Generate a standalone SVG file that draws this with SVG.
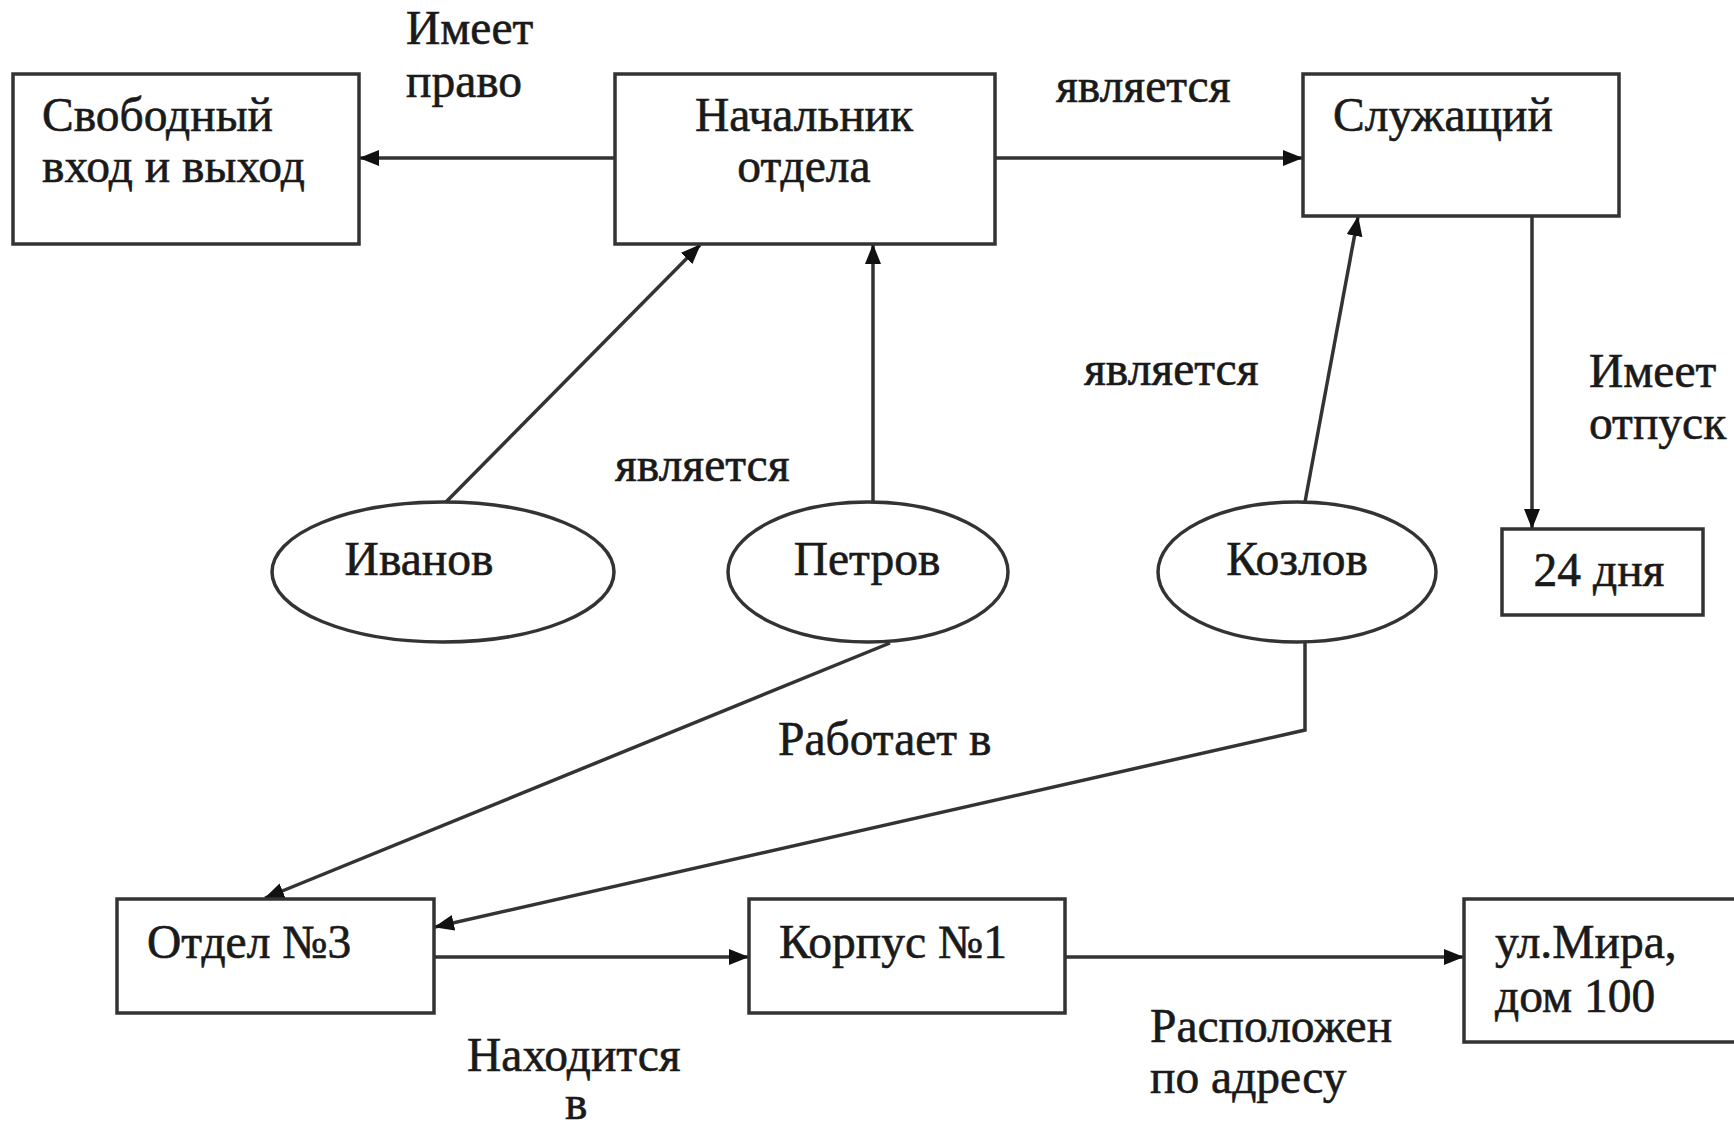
<svg xmlns="http://www.w3.org/2000/svg" width="1734" height="1126" viewBox="0 0 1734 1126">
<style>
.box{fill:#fff;stroke:#333;stroke-width:3.5}
.t{font-family:"Liberation Serif","Times New Roman",serif;font-size:47.5px;fill:#1a1a1a;stroke:#1a1a1a;stroke-width:0.6}
.c{text-anchor:middle}
.ln{fill:none;stroke:#333;stroke-width:3.5}
</style>
<defs>
<marker id="ah" markerWidth="20" markerHeight="16" refX="19" refY="8" orient="auto" markerUnits="userSpaceOnUse">
<path d="M0,0 L20,8 L0,16 Z" fill="#111"/>
</marker>
</defs>
<rect width="1734" height="1126" fill="#fff"/>
<g id="connectors">
<line class="ln" x1="615" y1="158" x2="360" y2="158" marker-end="url(#ah)"/>
<line class="ln" x1="995" y1="158" x2="1302" y2="158" marker-end="url(#ah)"/>
<line class="ln" x1="446" y1="502" x2="700" y2="245" marker-end="url(#ah)"/>
<line class="ln" x1="873" y1="502" x2="873" y2="245" marker-end="url(#ah)"/>
<line class="ln" x1="1305" y1="502" x2="1358" y2="217" marker-end="url(#ah)"/>
<line class="ln" x1="1532" y1="216" x2="1532" y2="528" marker-end="url(#ah)"/>
<line class="ln" x1="890" y1="643" x2="265" y2="898" marker-end="url(#ah)"/>
<polyline class="ln" points="1305,643 1305,730 435,927" marker-end="url(#ah)"/>
<line class="ln" x1="434" y1="957" x2="748" y2="957" marker-end="url(#ah)"/>
<line class="ln" x1="1065" y1="957" x2="1463" y2="957" marker-end="url(#ah)"/>
<text class="t" x="406" y="44">Имеет</text>
<text class="t" x="406" y="97">право</text>
<text class="t" x="1056" y="102">является</text>
<text class="t" x="1084" y="385">является</text>
<text class="t" x="615" y="481">является</text>
<text class="t" x="1589" y="387">Имеет</text>
<text class="t" x="1589" y="439">отпуск</text>
<text class="t" x="778" y="755">Работает в</text>
<text class="t" x="467" y="1071">Находится</text>
<text class="t" x="565" y="1119">в</text>
<text class="t" x="1150" y="1042">Расположен</text>
<text class="t" x="1150" y="1093">по адресу</text>
</g>
<g id="n-free">
<rect class="box" x="13" y="74" width="346" height="170"/>
<text class="t" x="42" y="131">Свободный</text>
<text class="t" x="42" y="182">вход и выход</text>
</g>
<g id="n-head">
<rect class="box" x="615" y="74" width="380" height="170"/>
<text class="t c" x="804" y="131">Начальник</text>
<text class="t c" x="804" y="182">отдела</text>
</g>
<g id="n-employee">
<rect class="box" x="1303" y="74" width="316" height="142"/>
<text class="t c" x="1443" y="131">Служащий</text>
</g>
<g id="n-24">
<rect class="box" x="1502" y="529" width="201" height="86"/>
<text class="t c" x="1599" y="586">24 дня</text>
</g>
<g id="n-ivanov">
<ellipse class="box" cx="443" cy="572" rx="171" ry="70"/>
<text class="t c" x="419" y="575">Иванов</text>
</g>
<g id="n-petrov">
<ellipse class="box" cx="868" cy="572" rx="140" ry="70"/>
<text class="t c" x="867" y="575">Петров</text>
</g>
<g id="n-kozlov">
<ellipse class="box" cx="1297" cy="572" rx="139" ry="70"/>
<text class="t c" x="1297" y="575">Козлов</text>
</g>
<g id="n-dept">
<rect class="box" x="117" y="899" width="317" height="114"/>
<text class="t" x="147" y="958">Отдел №3</text>
</g>
<g id="n-building">
<rect class="box" x="749" y="899" width="316" height="114"/>
<text class="t" x="779" y="958">Корпус №1</text>
</g>
<g id="n-address">
<rect class="box" x="1464" y="899" width="290" height="143"/>
<text class="t" x="1495" y="958">ул.Мира,</text>
<text class="t" x="1495" y="1012">дом 100</text>
</g>
</svg>
